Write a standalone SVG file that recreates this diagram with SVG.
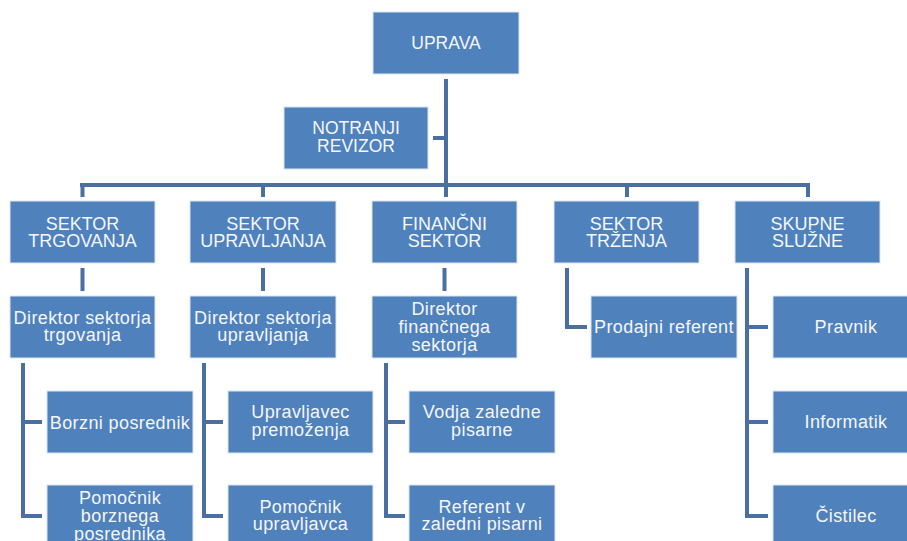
<svg xmlns="http://www.w3.org/2000/svg" width="907" height="541" viewBox="0 0 907 541">
<style>
.box{fill:#4F81BD;stroke:#DCE6F2;stroke-width:1}
.t{font-family:"Liberation Sans",Arial,sans-serif;fill:#F4F6FA;text-anchor:middle}
.h{font-size:18px}
.u{font-size:17.5px}
.s{font-size:18px;letter-spacing:0.4px}
.c{fill:none;stroke:#4A6FA2;stroke-width:4;stroke-linejoin:miter}
</style>
<rect width="907" height="541" fill="#FFFFFF"/>
<g id="connectors">
<path class="c" d="M446 79V185M433 138H446M80 185H810M82.5 183V197M263 183V197M446 183V197M627 183V197M808 183V197"/>
<path class="c" d="M82.5 268V291M263 268V291M444.5 268V291"/>
<path class="c" d="M567 268V327H587"/>
<path class="c" d="M747 268V516H768M747 327H768M747 422H768"/>
<path class="c" d="M23 363V516H42M23 422H42"/>
<path class="c" d="M204 363V516H223M204 422H223"/>
<path class="c" d="M386 363V516H405M386 422H405"/>
</g>
<g id="uprava"><rect class="box" x="373" y="12" width="146" height="62"/><text class="t u" x="446" y="49">UPRAVA</text></g>
<g id="revizor"><rect class="box" x="284" y="107" width="144" height="62"/><text class="t u" x="356" y="134">NOTRANJI</text><text class="t u" x="356" y="152">REVIZOR</text></g>
<g id="sektor-trgovanja"><rect class="box" x="10" y="201" width="145" height="62"/><text class="t h" x="82.5" y="229.5">SEKTOR</text><text class="t h" x="82.5" y="247">TRGOVANJA</text></g>
<g id="sektor-upravljanja"><rect class="box" x="190" y="201" width="146" height="62"/><text class="t h" x="263" y="229.5">SEKTOR</text><text class="t h" x="263" y="247">UPRAVLJANJA</text></g>
<g id="financni-sektor"><rect class="box" x="372" y="201" width="145" height="62"/><text class="t h" x="444.5" y="229.5">FINANČNI</text><text class="t h" x="444.5" y="247">SEKTOR</text></g>
<g id="sektor-trzenja"><rect class="box" x="554" y="201" width="145" height="62"/><text class="t h" x="626.5" y="229.5">SEKTOR</text><text class="t h" x="626.5" y="247">TRŽENJA</text></g>
<g id="skupne-sluzne"><rect class="box" x="735" y="201" width="145" height="62"/><text class="t h" x="807.5" y="229.5">SKUPNE</text><text class="t h" x="807.5" y="247">SLUŽNE</text></g>
<g id="dir-trgovanja"><rect class="box" x="10" y="296" width="145" height="62"/><text class="t s" x="82.5" y="324">Direktor sektorja</text><text class="t s" x="82.5" y="341">trgovanja</text></g>
<g id="dir-upravljanja"><rect class="box" x="190" y="296" width="146" height="62"/><text class="t s" x="263" y="324">Direktor sektorja</text><text class="t s" x="263" y="341">upravljanja</text></g>
<g id="dir-financnega"><rect class="box" x="372" y="296" width="145" height="62"/><text class="t s" x="444.5" y="315">Direktor</text><text class="t s" x="444.5" y="333">finančnega</text><text class="t s" x="444.5" y="351">sektorja</text></g>
<g id="prodajni-referent"><rect class="box" x="591" y="296" width="146" height="62"/><text class="t s" x="664" y="333">Prodajni referent</text></g>
<g id="pravnik"><rect class="box" x="773" y="296" width="146" height="62"/><text class="t s" x="846" y="333">Pravnik</text></g>
<g id="borzni-posrednik"><rect class="box" x="47" y="391" width="146" height="62"/><text class="t s" x="120" y="428.5">Borzni posrednik</text></g>
<g id="upravljavec-premozenja"><rect class="box" x="228" y="391" width="145" height="62"/><text class="t s" x="300.5" y="418">Upravljavec</text><text class="t s" x="300.5" y="436">premoženja</text></g>
<g id="vodja-zaledne-pisarne"><rect class="box" x="409" y="391" width="146" height="62"/><text class="t s" x="482" y="418">Vodja zaledne</text><text class="t s" x="482" y="436">pisarne</text></g>
<g id="informatik"><rect class="box" x="773" y="391" width="146" height="62"/><text class="t s" x="846" y="428">Informatik</text></g>
<g id="pomocnik-borznega"><rect class="box" x="47" y="485" width="146" height="62"/><text class="t s" x="120" y="504">Pomočnik</text><text class="t s" x="120" y="522">borznega</text><text class="t s" x="120" y="539.5">posrednika</text></g>
<g id="pomocnik-upravljavca"><rect class="box" x="228" y="485" width="145" height="62"/><text class="t s" x="300.5" y="512.5">Pomočnik</text><text class="t s" x="300.5" y="530">upravljavca</text></g>
<g id="referent-zaledni"><rect class="box" x="409" y="485" width="146" height="62"/><text class="t s" x="482" y="512.5">Referent v</text><text class="t s" x="482" y="530">zaledni pisarni</text></g>
<g id="cistilec"><rect class="box" x="773" y="485" width="146" height="62"/><text class="t s" x="846" y="522">Čistilec</text></g>
</svg>
